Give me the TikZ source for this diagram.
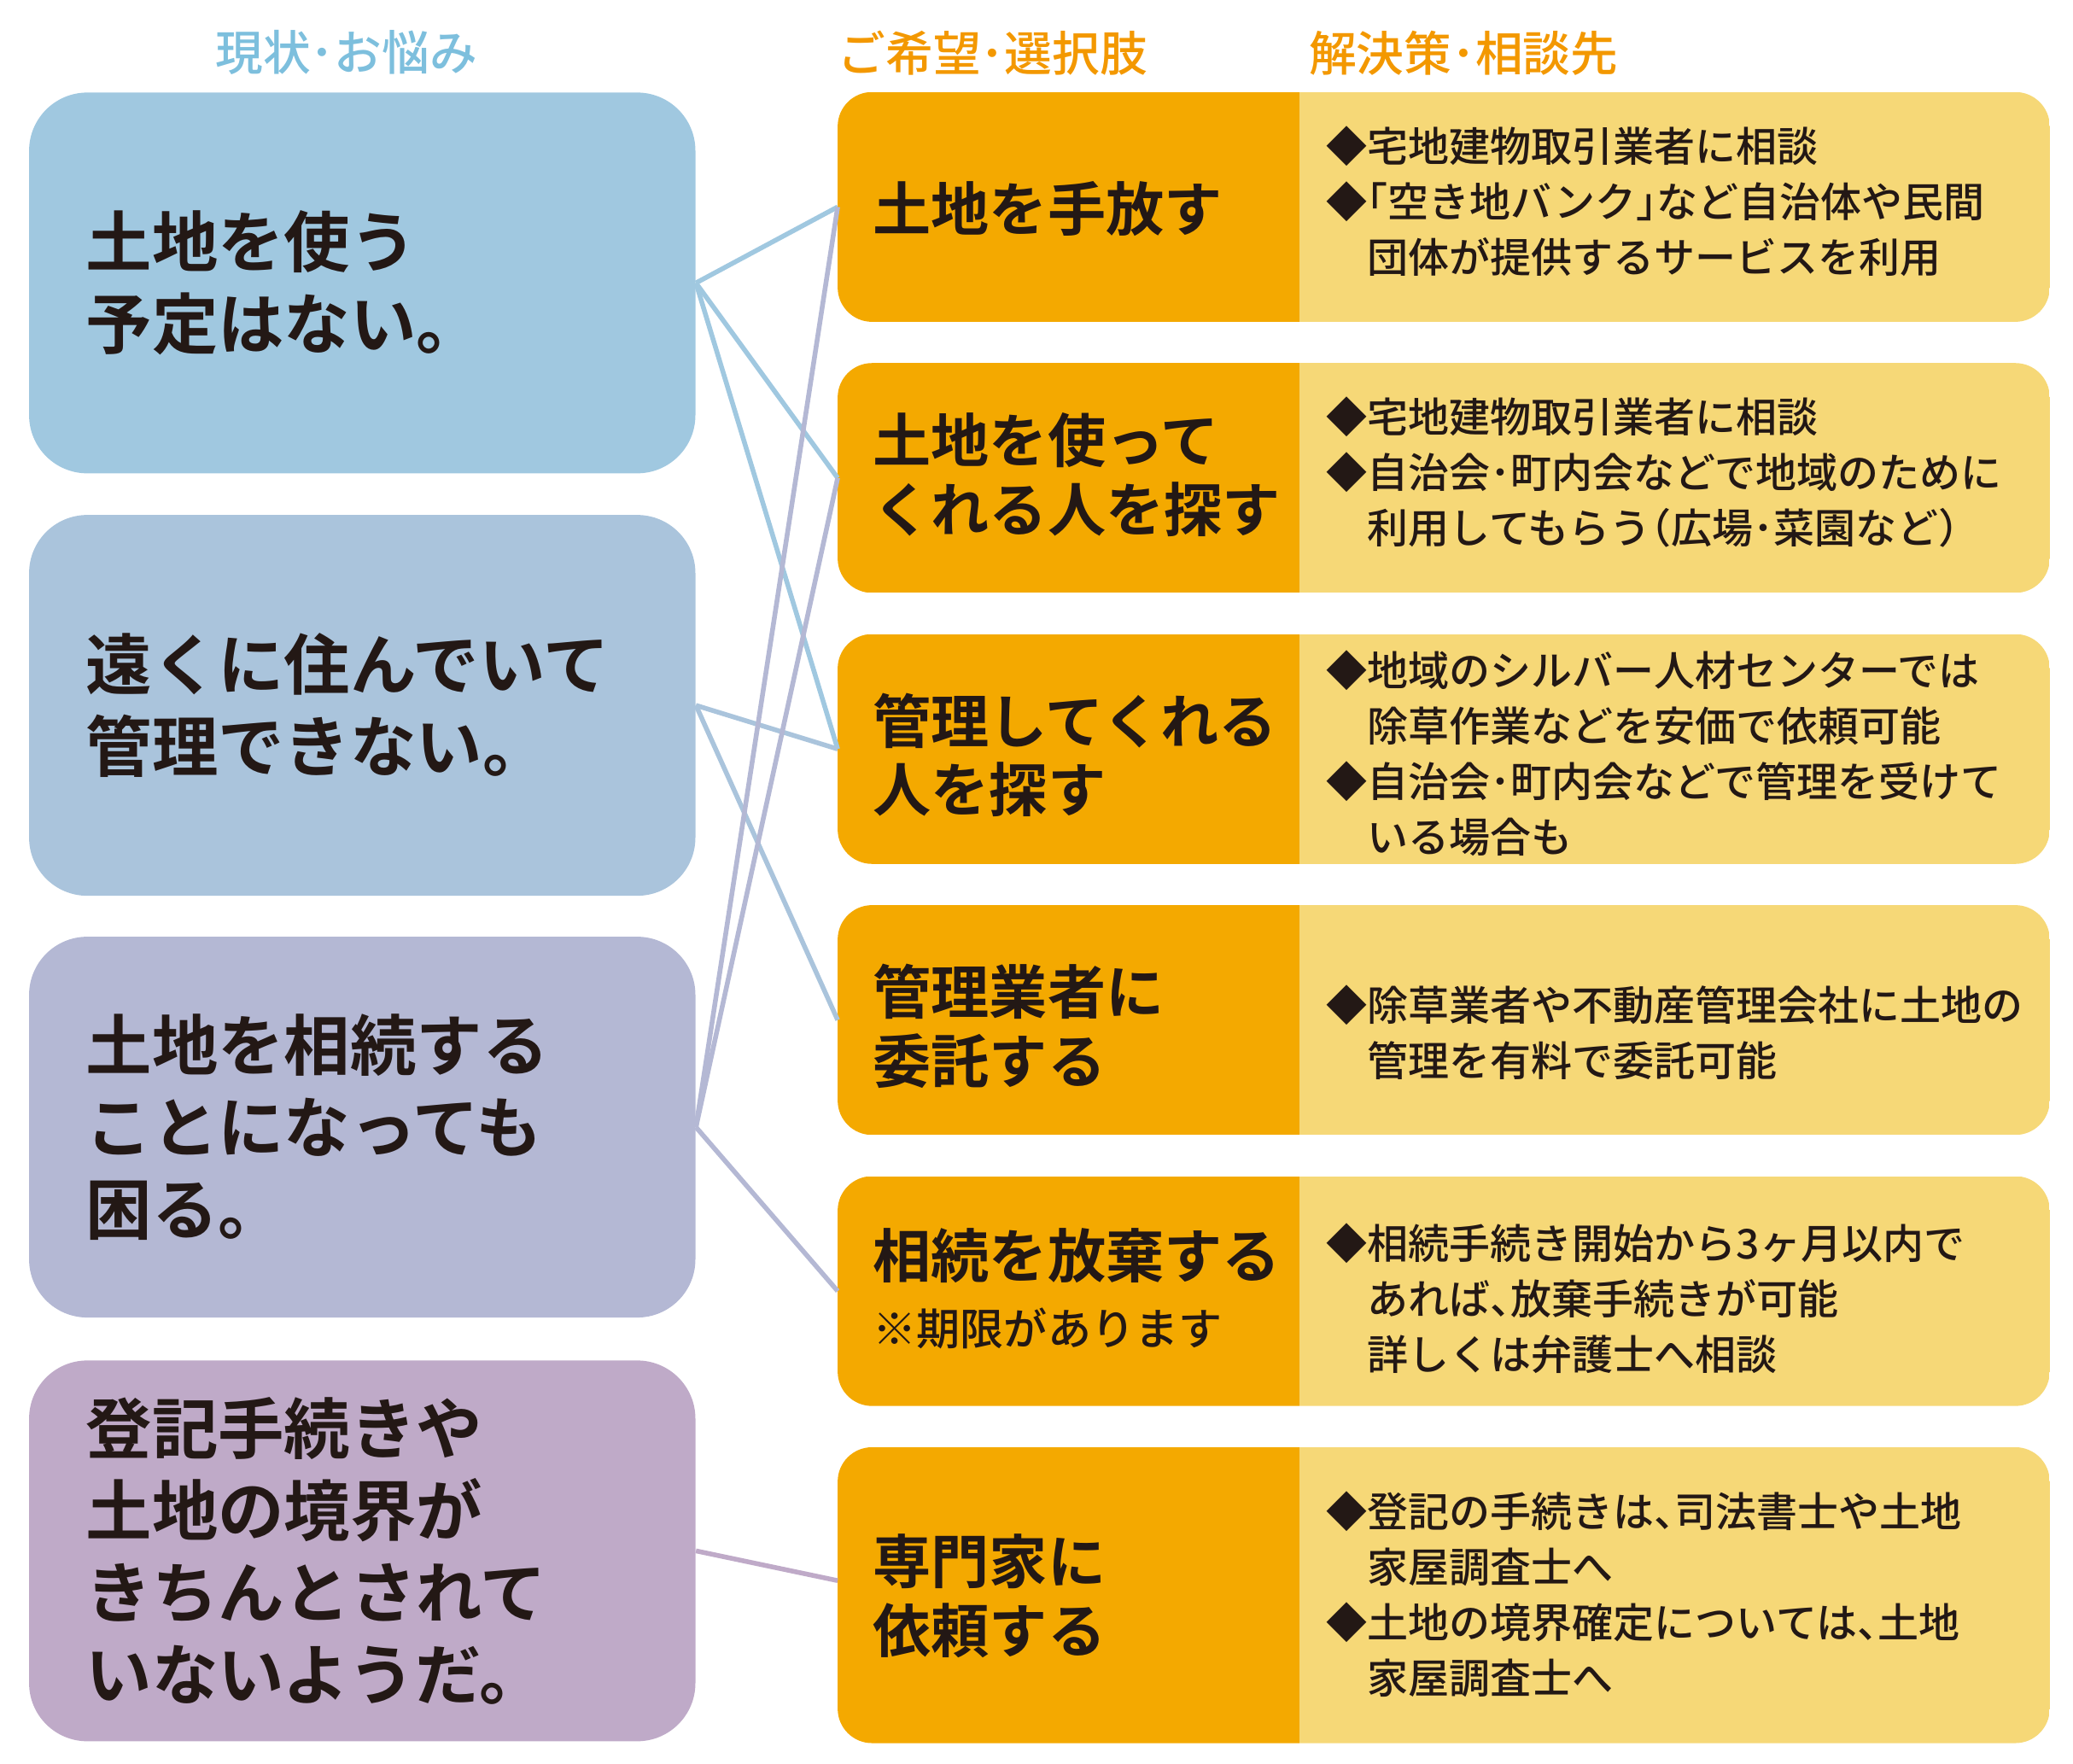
\documentclass[tikz,border=0pt]{standalone}
\usepackage{fontspec}
\setmainfont{Noto Sans CJK JP}[BoldFont={Noto Sans CJK JP Bold}]
\newfontfamily\jpmed{Noto Sans CJK JP Medium}
\newcommand\hw[1]{{\addfontfeatures{RawFeature=+halt}#1}}
\definecolor{ink}{HTML}{231815}
\definecolor{bA}{HTML}{A0C8E0}
\definecolor{bB}{HTML}{AAC4DC}
\definecolor{bC}{HTML}{B4B8D4}
\definecolor{bD}{HTML}{BFAAC8}
\definecolor{optorange}{HTML}{F4A900}
\definecolor{solyellow}{HTML}{F6D877}
\definecolor{ttlblue}{HTML}{7DBFDD}
\definecolor{ttlorange}{HTML}{F39800}
\begin{document}
\begin{tikzpicture}[x=0.5pt,y=-0.5pt,
  lbox/.style={rectangle, rounded corners=22pt, minimum width=252pt, minimum height=144pt,
    inner xsep=21.5pt, inner ysep=0pt, text width=209pt, align=left,
    font=\bfseries\fontsize{25pt}{31pt}\selectfont, text=ink},
  rbox/.style={rectangle, minimum width=458pt, minimum height=86.5pt, inner sep=0pt},
  opttext/.style={anchor=west, inner sep=0pt, align=left,
    font=\bfseries\fontsize{22pt}{26pt}\selectfont, text=ink},
  optnote/.style={anchor=west, inner sep=0pt,
    font=\jpmed\fontsize{16.5pt}{20pt}\selectfont, text=ink},
  soltext/.style={anchor=west, inner sep=0pt, align=left,
    font=\jpmed\fontsize{15.5pt}{21pt}\selectfont, text=ink},
  ttl/.style={inner sep=0pt, font=\jpmed\fontsize{18pt}{20pt}\selectfont},
  conn/.style={line width=1.8pt}]
\useasboundingbox (0,0) rectangle (1568,1334);
\coordinate (split) at (983,0);

% titles
\node[ttl, text=ttlblue] (h1) at (262,40) {現状･お悩み};
\node[ttl, text=ttlorange] (h2) at (751,40) {ご希望･選択肢};
\node[ttl, text=ttlorange] (h3) at (1107,40) {解決策･相談先};

% left boxes
\node[lbox, fill=bA] (l1) at (274,214) {土地を使う\\予定はない。};
\node[lbox, fill=bB] (l2) at (274,533.5) {遠くに住んでいて\\管理できない。};
\node[lbox, fill=bC] (l3) at (274,852.5) {土地を相続する\\ことになっても\\困る。};
\node[lbox, fill=bD] (l4) at (274,1173) {登記手続きや\\土地の境界が\\きちんとされて\\いないようだ。};

% right boxes
\node[rbox] (o1) at (1092,156.5) {};
\node[rbox] (o2) at (1092,361.5) {};
\node[rbox] (o3) at (1092,566.5) {};
\node[rbox] (o4) at (1092,771.5) {};
\node[rbox] (o5) at (1092,976.5) {};
\node[rbox, minimum height=111.5pt] (o6) at (1092,1206.5) {};
\foreach \n in {o1,o2,o3,o4,o5,o6}{
  \begin{scope}
    \clip[rounded corners=13pt] (\n.south west) rectangle (\n.north east);
    \fill[optorange] (\n.south west) rectangle (\n.north -| split);
    \fill[solyellow] (\n.south -| split) rectangle (\n.north east);
  \end{scope}
}

% option texts
\node[opttext] (p1) at (660,158) {土地を手放す};
\node[opttext] (p2) at (660,359) {土地を使って\\くれる人を探す};
\node[opttext] (p3) at (660,571) {管理してくれる\\人を探す};
\node[opttext] (p4) at (660,776) {管理業者に\\委託する};
\node[opttext] (p5) at (660,950) {相続を放棄する};
\node[optnote] (p5n) at (660,1005) {※期限があります};
\node[opttext] (p6) at (660,1207) {専門家に\\依頼する};

% solution texts
\node[soltext] (s1) at (1003,152.5) {◆宅地建物取引業者に相談\\◆\hw{「}空き地バンク\hw{」}など自治体や民間\\\phantom{◆}団体が提供するサービスを利用};
\node[soltext] (s2) at (1003,357.5) {◆宅地建物取引業者に相談\\◆自治会･町内会などで地域のために\\\phantom{◆}利用してもらう\hw{（}広場･菜園など\hw{）}};
\node[soltext] (s3) at (1003,570) {◆地域のシルバー人材センターでは\\\phantom{◆}除草作業などを安価で依頼可能\\◆自治会･町内会などで管理を受けて\\\phantom{◆}いる場合も};
\node[soltext] (s4) at (1003,781) {◆除草業者や不動産管理会社に土地の\\\phantom{◆}管理を有料で委託可能};
\node[soltext] (s5) at (1003,982.5) {◆相続手続き開始から3ヶ月以内で\\\phantom{◆}あれば\hw{、}放棄手続きが可能\\\phantom{◆}詳しくは弁護士へ相談};
\node[soltext] (s6) at (1003,1206) {◆登記の手続きは\hw{、}司法書士や土地\\\phantom{◆}家屋調査士へ\\◆土地の境界確定については\hw{、}土地\\\phantom{◆}家屋調査士へ};

% connectors
\draw[conn, bA] (l1.east) -- (o1.west);
\draw[conn, bA] (l1.east) -- (o2.west);
\draw[conn, bA] (l1.east) -- (o3.west);
\draw[conn, bB] (l2.east) -- (o3.west);
\draw[conn, bB] (l2.east) -- (o4.west);
\draw[conn, bC] (l3.east) -- (o1.west);
\draw[conn, bC] (l3.east) -- (o2.west);
\draw[conn, bC] (l3.east) -- (o5.west);
\draw[conn, bD] (l4.east) -- ([yshift=5.5pt]o6.west);
\end{tikzpicture}
\end{document}
